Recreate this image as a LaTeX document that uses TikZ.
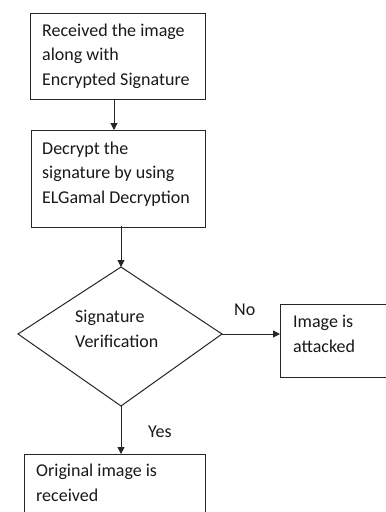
\documentclass[tikz,border=0pt]{standalone}
\usepackage{fontspec}
\setmainfont{Carlito}
\usetikzlibrary{arrows.meta}
\begin{document}
\begin{tikzpicture}[x=1pt,y=-1pt,
  box/.style={draw=black!85, line width=1pt, rectangle, inner sep=0pt, anchor=north west},
  dia/.style={draw=black!85, line width=1pt},
  txt/.style={inner sep=0pt, anchor=base west, align=left, font=\fontsize{18}{24.5}\selectfont, text=black!90},
  conn/.style={draw=black!85, line width=1pt, -{Triangle[length=7pt,width=7pt]}}]
\useasboundingbox (0,0) rectangle (386,512);
\fill[white] (0,0) rectangle (386,512);
% boxes
\node[box, minimum width=175pt, minimum height=86pt] (b1) at (30,13) {};
\node[box, minimum width=174pt, minimum height=97pt] (b2) at (31,130) {};
\node[box, minimum width=120pt, minimum height=73pt] (b3) at (280,304) {};
\node[box, minimum width=181pt, minimum height=90pt] (b4) at (24,454) {};
% diamond
\coordinate (dt) at (121,267);
\coordinate (dr) at (222,334);
\coordinate (db) at (121,406);
\coordinate (dl) at (18,334);
\draw[dia] (dt) -- (dr) -- (db) -- (dl) -- cycle;
% texts (anchored at the baseline of the last line)
\node[txt] (t1) at (42,85) {Received the image\\along with\\Encrypted Signature};
\node[txt] (t2) at (42,203) {Decrypt the\\signature by using\\ELGamal Decryption};
\node[txt] (t3) at (75,347) {Signature\\Verification};
\node[txt] (t4) at (293,352) {Image is\\attacked};
\node[txt] (t5) at (36,501) {Original image is\\received};
\node[txt] (no) at (234,315) {No};
\node[txt] (yes) at (148,437) {Yes};
% connectors
\coordinate (a1) at (114,99);
\coordinate (a2) at (114,130);
\draw[conn] (a1) -- (a2);
\coordinate (a3) at (121,226);
\draw[conn] (a3) -- (dt);
\draw[conn] (dr) -- (b3.west |- dr);
\draw[conn] (db) -- (db |- b4.north);
\end{tikzpicture}
\end{document}
